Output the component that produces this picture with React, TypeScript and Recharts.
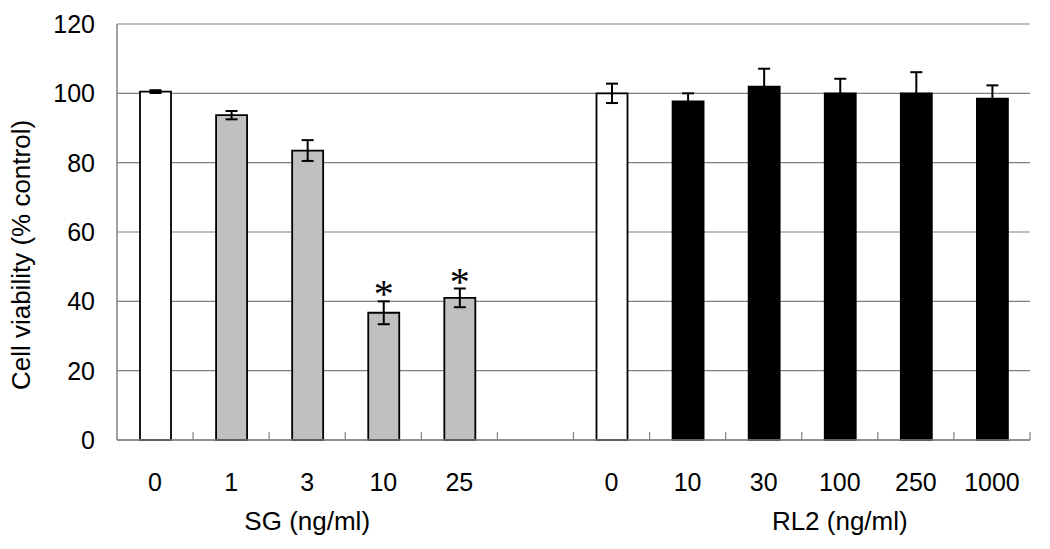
import React from 'react';
import { ComposedChart, Bar, XAxis, YAxis, CartesianGrid, ErrorBar, Cell } from 'recharts';

const doseLabels = ['0', '1', '3', '10', '25', '', '0', '10', '30', '100', '250', '1000'];
const viability = [100.5, 93.7, 83.5, 36.7, 41.0, null, 100.0, 97.7, 101.9, 100.0, 100.0, 98.5];
const viabilitySD = [0.4, 1.2, 3.0, 3.3, 2.7, null, 2.8, 2.3, 5.2, 4.2, 6.1, 3.8];
const treatment = ['control', 'SG', 'SG', 'SG', 'SG', 'none', 'control', 'RL2', 'RL2', 'RL2', 'RL2', 'RL2'];
const significant = [false, false, false, true, true, false, false, false, false, false, false, false];
const groupNames = ['SG (ng/ml)', 'RL2 (ng/ml)'];
const groupCenterIndex = [2, 9];
const yTicks = [0, 20, 40, 60, 80, 100, 120];

const fillOf: Record<string, string> = { control: '#ffffff', SG: '#c0c0c0', RL2: '#000000', none: 'none' };

const data = doseLabels.map((label, i) => ({
  id: i,
  label,
  value: viability[i],
  err: viabilitySD[i],
  kind: treatment[i],
  star: significant[i],
}));

const FONT = '"Liberation Sans", Arial, sans-serif';
const TICK_FS = 25;
const TITLE_FS = 26;

const XTick = (props: any) => {
  const { x, y, payload } = props;
  const idx = payload.value as number;
  const half = typeof payload.offset === 'number' ? payload.offset : 0;
  const g = groupCenterIndex.indexOf(idx);
  const last = idx === doseLabels.length - 1;
  return (
    <g>
      {half > 0 && idx > 0 && (
        <line x1={x - half} x2={x - half} y1={y} y2={y - 8} stroke="#808080" strokeWidth={1.2} />
      )}
      {half > 0 && last && (
        <line x1={x + half} x2={x + half} y1={y} y2={y - 8} stroke="#808080" strokeWidth={1.2} />
      )}
      <text x={x} y={y + 51} textAnchor="middle" fontSize={TICK_FS} fontFamily={FONT} fill="#000">
        {doseLabels[idx]}
      </text>
      {g >= 0 && (
        <text x={x} y={y + 90} textAnchor="middle" fontSize={TITLE_FS} fontFamily={FONT} fill="#000">
          {groupNames[g]}
        </text>
      )}
    </g>
  );
};

const StarLabel = (props: any) => {
  const { x, y, width, height, index, value } = props;
  const d = data[index];
  if (!d || !d.star || !value) return null;
  const pxPerUnit = height / value;
  const capY = y - (d.err || 0) * pxPerUnit;
  return (
    <text x={x + width / 2} y={capY + 6} textAnchor="middle" fontSize={40} fontFamily='"Liberation Serif", "Times New Roman", serif' fill="#000">
      *
    </text>
  );
};

const YTitle = (props: any) => {
  const vb = props.viewBox || { x: 0, y: 24, width: 117, height: 416 };
  const cy = vb.y + vb.height / 2 + 23;
  return (
    <text x={30} y={cy} transform={`rotate(-90, 30, ${cy})`} textAnchor="middle" fontSize={TITLE_FS} fontFamily={FONT} fill="#000">
      Cell viability (% control)
    </text>
  );
};

export default function App() {
  return (
    <div style={{ position: 'absolute', left: 0, top: 0, width: 1050, height: 549, background: '#fff' }}>
      <ComposedChart width={1050} height={549} data={data} margin={{ top: 24, right: 20, bottom: 0, left: 0 }} barSize={31}>
        <CartesianGrid horizontal vertical={false} stroke="#808080" strokeWidth={1.2} />
        <XAxis
          dataKey="id"
          type="category"
          height={109}
          tickLine={false}
          tickSize={0}
          tickMargin={0}
          axisLine={{ stroke: '#808080', strokeWidth: 1.5 }}
          tick={<XTick />}
          interval={0}
        />
        <YAxis
          width={117}
          domain={[0, 120]}
          ticks={yTicks}
          tickLine={false}
          tickMargin={16}
          axisLine={{ stroke: '#808080', strokeWidth: 1.5 }}
          tick={{ fontSize: TICK_FS, fontFamily: FONT, fill: '#000' }}
          label={YTitle}
        />
        <Bar dataKey="value" stroke="#000" strokeWidth={1.8} isAnimationActive={false} label={StarLabel}>
          {data.map((d, i) => (
            <Cell key={i} fill={fillOf[d.kind]} />
          ))}
          <ErrorBar dataKey="err" width={6} stroke="#000" strokeWidth={2} direction="y" />
        </Bar>
      </ComposedChart>
    </div>
  );
}
